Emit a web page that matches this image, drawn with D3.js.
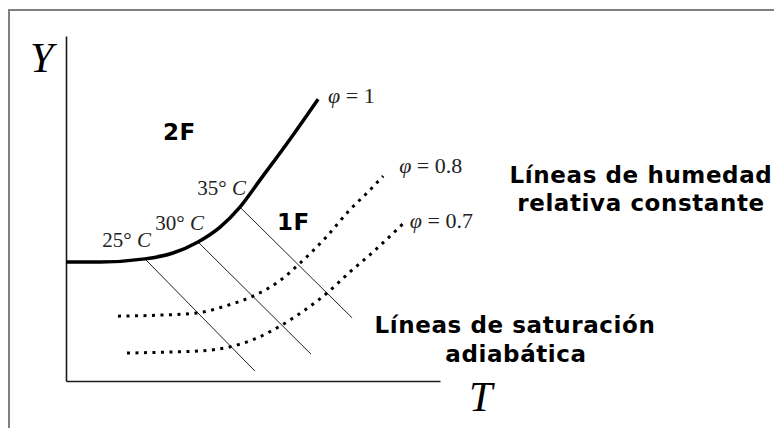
<!DOCTYPE html>
<html>
<head>
<meta charset="utf-8">
<script src="https://cdn.jsdelivr.net/npm/d3@7"></script>
<style>
  html, body { margin: 0; padding: 0; background: #fff; }
  svg { display: block; }
</style>
</head>
<body>
<div id="chart"></div>
<script>
// Psychrometric sketch: humidity Y against temperature T (schematic units)
const satT  = [0.00, 0.91, 2.11, 2.86, 3.53, 4.12, 4.65, 5.19, 5.99, 6.74];
const satY  = [3.45, 3.45, 3.54, 3.71, 4.03, 4.46, 5.04, 5.83, 7.01, 8.17];

const phi08T = [1.39, 2.51, 3.50, 4.25, 5.00, 5.67, 6.26, 6.93, 7.59, 8.13, 8.48];
const phi08Y = [1.88, 1.91, 1.97, 2.17, 2.46, 2.87, 3.42, 4.14, 4.96, 5.54, 5.94];

const phi07T = [1.63, 2.78, 3.58, 4.39, 5.05, 5.72, 6.39, 6.98, 7.59, 8.21, 9.06];
const phi07Y = [0.81, 0.84, 0.87, 0.99, 1.22, 1.59, 2.06, 2.55, 3.16, 3.74, 4.61];

// adiabatic saturation lines: start on the saturation curve, end below right
const adiaStartT = [2.11, 3.53, 4.65];
const adiaStartY = [3.54, 4.03, 5.04];
const adiaEndT   = [5.05, 6.55, 7.65];
const adiaEndY   = [0.29, 0.78, 1.83];
const adiaTemps  = ["25", "30", "35"];

const phiLabels = ["1", "0.8", "0.7"];

const W = 774, H = 428;
const svg = d3.select("#chart").append("svg")
  .attr("width", W).attr("height", H);

// frame
svg.append("line").attr("x1", 9).attr("y1", 10).attr("x2", W).attr("y2", 10)
  .attr("stroke", "#808080").attr("stroke-width", 2);
svg.append("line").attr("x1", 9).attr("y1", 9).attr("x2", 9).attr("y2", H)
  .attr("stroke", "#808080").attr("stroke-width", 2);

const x = d3.scaleLinear().domain([0, 10]).range([66, 440]);
const y = d3.scaleLinear().domain([0, 10]).range([381, 36]);

// axes without ticks
svg.append("g").attr("transform", `translate(0,${y(0)})`)
  .call(d3.axisBottom(x).tickValues([]).tickSizeOuter(0));
svg.append("g").attr("transform", `translate(${x(0)},0)`)
  .call(d3.axisLeft(y).tickValues([]).tickSizeOuter(0));
svg.selectAll(".domain").attr("stroke", "#1a1a1a").attr("stroke-width", 1.6);

const line = d3.line().x(d => x(d[0])).y(d => y(d[1])).curve(d3.curveMonotoneX);
const zip = (a, b) => a.map((v, i) => [v, b[i]]);

// adiabatic lines
svg.append("g").selectAll("line").data(adiaStartT).join("line")
  .attr("x1", (d, i) => x(adiaStartT[i])).attr("y1", (d, i) => y(adiaStartY[i]))
  .attr("x2", (d, i) => x(adiaEndT[i])).attr("y2", (d, i) => y(adiaEndY[i]))
  .attr("stroke", "#222").attr("stroke-width", 1);

// constant relative humidity curves
[[phi08T, phi08Y], [phi07T, phi07Y]].forEach(([ts, ys]) => {
  svg.append("path").datum(zip(ts, ys)).attr("d", line)
    .attr("fill", "none").attr("stroke", "#000").attr("stroke-width", 3)
    .attr("stroke-dasharray", "3 5.5");
});

// saturation curve
svg.append("path").datum(zip(satT, satY)).attr("d", line)
  .attr("fill", "none").attr("stroke", "#000").attr("stroke-width", 3.5);

const serif = "'Liberation Serif', 'DejaVu Serif', serif";
const sans = "'DejaVu Sans', Verdana, sans-serif";

// temperature labels on the saturation curve
const tempLab = svg.append("g").selectAll("text").data(adiaTemps).join("text")
  .attr("x", (d, i) => x(adiaStartT[i]) + 6)
  .attr("y", (d, i) => y(adiaStartY[i]) - 12)
  .attr("text-anchor", "end")
  .attr("font-family", serif).attr("font-size", 21).attr("fill", "#222");
tempLab.append("tspan").text(d => d + "° ");
tempLab.append("tspan").attr("font-style", "italic").text("C");

// phi labels at the curve ends
const curvesEnd = [
  [satT[satT.length - 1], satY[satY.length - 1], 10, 4],
  [phi08T[phi08T.length - 1], phi08Y[phi08Y.length - 1], 16, -3],
  [phi07T[phi07T.length - 1], phi07Y[phi07Y.length - 1], 5, 6]
];
const phiLab = svg.append("g").selectAll("text").data(phiLabels).join("text")
  .attr("x", (d, i) => x(curvesEnd[i][0]) + curvesEnd[i][2])
  .attr("y", (d, i) => y(curvesEnd[i][1]) + curvesEnd[i][3])
  .attr("font-family", serif).attr("font-size", 22).attr("fill", "#222");
phiLab.append("tspan").attr("font-style", "italic").text("φ");
phiLab.append("tspan").text(d => " = " + d);

// axis titles
svg.append("text").attr("x", 30).attr("y", 72).text("Y")
  .attr("font-family", serif).attr("font-style", "italic").attr("font-size", 42);
svg.append("text").attr("x", 469).attr("y", 411).text("T")
  .attr("font-family", serif).attr("font-style", "italic").attr("font-size", 42);

// region and family annotations
const bold = (tx, ty, s, anchor) => svg.append("text").attr("x", tx).attr("y", ty)
  .attr("text-anchor", anchor || "start")
  .attr("font-family", sans).attr("font-weight", "bold").attr("font-size", 23)
  .attr("letter-spacing", 0.6)
  .text(s);
bold(163, 140, "2F");
bold(277, 230, "1F");
bold(641, 183, "Líneas de humedad", "middle");
bold(641, 211, "relativa constante", "middle");
bold(515, 333, "Líneas de saturación", "middle");
bold(516, 362, "adiabática", "middle");
</script>
</body>
</html>
